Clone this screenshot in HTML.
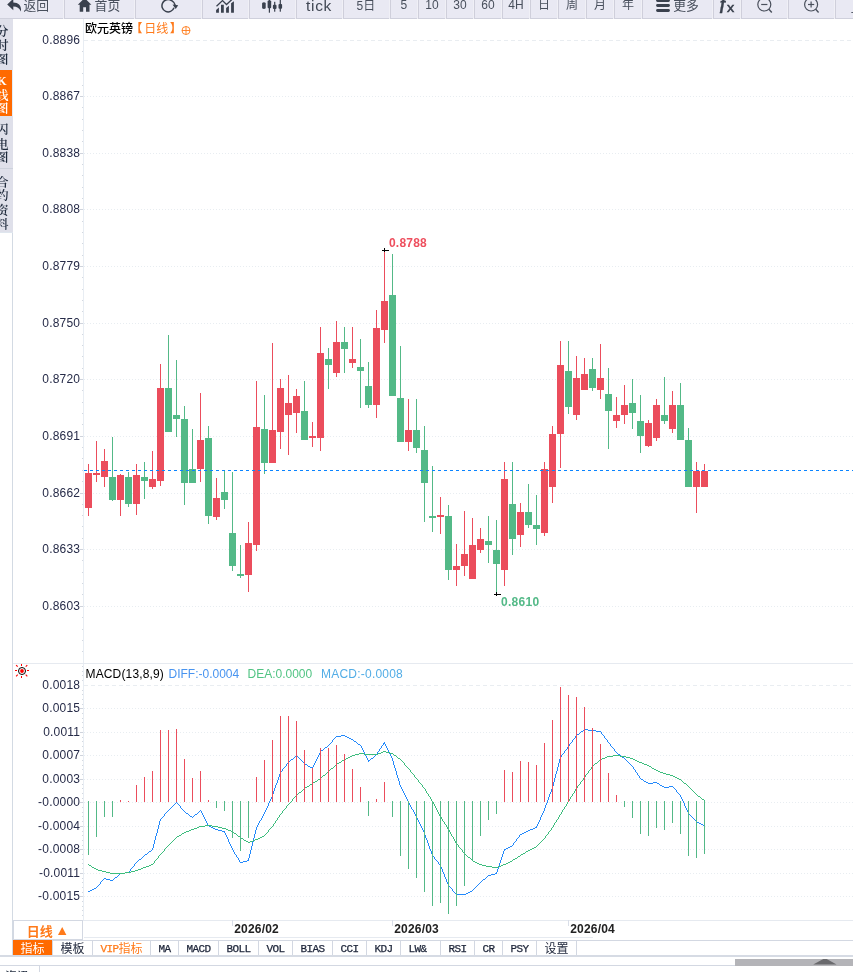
<!DOCTYPE html>
<html lang="zh-CN">
<head>
<meta charset="utf-8">
<title>欧元英镑 日线</title>
<style>
html,body{margin:0;padding:0;background:#fff;}
body{width:853px;height:972px;overflow:hidden;position:relative;font-family:"Liberation Sans","Noto Sans CJK SC",sans-serif;color:#333;}
#root{position:absolute;left:0;top:0;width:853px;height:972px;overflow:hidden;background:#fff;}
#root div,#root span,#root svg{position:absolute;}
.tbar{left:0;top:0;width:853px;height:19px;background:#f0f0f6;}
.tb{top:0;height:18px;background:#e9e9f3;border-left:1px solid #cfcfdb;border-bottom:1px solid #cfd0dc;overflow:hidden;}
.tt{top:-3.300px;font-size:12px;line-height:18px;color:#484f5c;white-space:nowrap;font-family:"Liberation Sans","Noto Sans CJK SC",sans-serif;}
.tc{left:0;right:0;top:-5px;text-align:center;font-size:13px;line-height:18px;color:#4b525e;white-space:nowrap;}
.side{left:0;top:19px;width:13px;background:#dfe0ea;overflow:hidden;font-family:"Liberation Serif","Noto Serif CJK SC",serif;font-size:12.500px;font-weight:600;color:#1e2a3c;}
.side span{left:-4.200px;width:13px;text-align:center;line-height:14px;}
.yl{left:20px;width:60.200px;text-align:right;font-size:12px;line-height:14px;color:#262b48;white-space:nowrap;letter-spacing:0.2px;}
.tab{top:941px;height:14px;border-right:1px solid #d3d8e2;font-family:"Liberation Mono","Noto Sans CJK SC",monospace;font-size:11px;letter-spacing:-0.6px;line-height:15px;text-align:center;color:#1c2438;white-space:nowrap;}
.tab .tcj{position:relative !important;top:2.200px;font-family:"Liberation Sans","Noto Sans CJK SC",sans-serif;font-size:12px;letter-spacing:0;line-height:14px;}
.tab.act{background:#ff6a00;color:#fff;}
.tab.na .tcj{top:1.300px;}
.tab.na{-webkit-text-stroke:0.25px currentColor;}
.tab.na .tcj{-webkit-text-stroke:0;}
.tab.vip{color:#ff7a1a;}
.cj{font-family:"Liberation Sans","Noto Sans CJK SC",sans-serif;font-size:12px;}
</style>
</head>
<body>
<div id="root">
<svg width="853" height="972" viewBox="0 0 853 972" style="left:0;top:0" shape-rendering="crispEdges">
<!-- frame lines -->
<rect x="12" y="233" width="1" height="723" fill="#d3dae3"/>
<rect x="83" y="19" width="1" height="902" fill="#e8edf3"/>
<rect x="13" y="663" width="840" height="1" fill="#e6eaf0"/>
<rect x="13" y="920" width="840" height="1" fill="#e6eaf0"/>
<rect x="84" y="937" width="509" height="1" fill="#e6eaf0"/>
<rect x="13" y="940" width="840" height="1" fill="#d3d8e2"/>
<rect x="0" y="955" width="853" height="2" fill="#d6dbe4"/>
<rect x="0" y="965" width="735" height="1" fill="#d3d8e2"/>
<rect x="39" y="966" width="1" height="6" fill="#d3d8e2"/>
<!-- period box -->
<rect x="13.5" y="920.5" width="69" height="18.500" fill="#fff" stroke="#d3d8e2"/>
<!-- x ticks -->
<rect x="232" y="920" width="1" height="6" fill="#d9dee8"/>
<rect x="392" y="920" width="1" height="6" fill="#d9dee8"/>
<rect x="568" y="920" width="1" height="6" fill="#d9dee8"/>
<line x1="84" x2="853" y1="40.5" y2="40.5" stroke="#e9edf1" stroke-dasharray="4 3"/>
<rect x="82" y="51" width="1" height="1" fill="#d3d8e0"/>
<rect x="82" y="62" width="1" height="1" fill="#d3d8e0"/>
<rect x="82" y="73" width="1" height="1" fill="#d3d8e0"/>
<rect x="82" y="85" width="1" height="1" fill="#d3d8e0"/>
<line x1="84" x2="853" y1="96.5" y2="96.5" stroke="#e8edf1" stroke-dasharray="1 2"/>
<rect x="80" y="96" width="3" height="1" fill="#cfd3dc"/>
<rect x="82" y="107" width="1" height="1" fill="#d3d8e0"/>
<rect x="82" y="119" width="1" height="1" fill="#d3d8e0"/>
<rect x="82" y="130" width="1" height="1" fill="#d3d8e0"/>
<rect x="82" y="141" width="1" height="1" fill="#d3d8e0"/>
<line x1="84" x2="853" y1="153.5" y2="153.5" stroke="#e8edf1" stroke-dasharray="1 2"/>
<rect x="80" y="153" width="3" height="1" fill="#cfd3dc"/>
<rect x="82" y="164" width="1" height="1" fill="#d3d8e0"/>
<rect x="82" y="175" width="1" height="1" fill="#d3d8e0"/>
<rect x="82" y="187" width="1" height="1" fill="#d3d8e0"/>
<rect x="82" y="198" width="1" height="1" fill="#d3d8e0"/>
<line x1="84" x2="853" y1="209.5" y2="209.5" stroke="#e8edf1" stroke-dasharray="1 2"/>
<rect x="80" y="209" width="3" height="1" fill="#cfd3dc"/>
<rect x="82" y="221" width="1" height="1" fill="#d3d8e0"/>
<rect x="82" y="232" width="1" height="1" fill="#d3d8e0"/>
<rect x="82" y="243" width="1" height="1" fill="#d3d8e0"/>
<rect x="82" y="255" width="1" height="1" fill="#d3d8e0"/>
<line x1="84" x2="853" y1="266.5" y2="266.5" stroke="#e8edf1" stroke-dasharray="1 2"/>
<rect x="80" y="266" width="3" height="1" fill="#cfd3dc"/>
<rect x="82" y="277" width="1" height="1" fill="#d3d8e0"/>
<rect x="82" y="289" width="1" height="1" fill="#d3d8e0"/>
<rect x="82" y="300" width="1" height="1" fill="#d3d8e0"/>
<rect x="82" y="311" width="1" height="1" fill="#d3d8e0"/>
<line x1="84" x2="853" y1="323.5" y2="323.5" stroke="#e8edf1" stroke-dasharray="1 2"/>
<rect x="80" y="323" width="3" height="1" fill="#cfd3dc"/>
<rect x="82" y="334" width="1" height="1" fill="#d3d8e0"/>
<rect x="82" y="345" width="1" height="1" fill="#d3d8e0"/>
<rect x="82" y="356" width="1" height="1" fill="#d3d8e0"/>
<rect x="82" y="368" width="1" height="1" fill="#d3d8e0"/>
<line x1="84" x2="853" y1="379.5" y2="379.5" stroke="#e8edf1" stroke-dasharray="1 2"/>
<rect x="80" y="379" width="3" height="1" fill="#cfd3dc"/>
<rect x="82" y="390" width="1" height="1" fill="#d3d8e0"/>
<rect x="82" y="402" width="1" height="1" fill="#d3d8e0"/>
<rect x="82" y="413" width="1" height="1" fill="#d3d8e0"/>
<rect x="82" y="424" width="1" height="1" fill="#d3d8e0"/>
<line x1="84" x2="853" y1="436.5" y2="436.5" stroke="#e8edf1" stroke-dasharray="1 2"/>
<rect x="80" y="436" width="3" height="1" fill="#cfd3dc"/>
<rect x="82" y="447" width="1" height="1" fill="#d3d8e0"/>
<rect x="82" y="458" width="1" height="1" fill="#d3d8e0"/>
<rect x="82" y="470" width="1" height="1" fill="#d3d8e0"/>
<rect x="82" y="481" width="1" height="1" fill="#d3d8e0"/>
<line x1="84" x2="853" y1="493.5" y2="493.5" stroke="#e8edf1" stroke-dasharray="1 2"/>
<rect x="80" y="493" width="3" height="1" fill="#cfd3dc"/>
<rect x="82" y="504" width="1" height="1" fill="#d3d8e0"/>
<rect x="82" y="515" width="1" height="1" fill="#d3d8e0"/>
<rect x="82" y="526" width="1" height="1" fill="#d3d8e0"/>
<rect x="82" y="538" width="1" height="1" fill="#d3d8e0"/>
<line x1="84" x2="853" y1="549.5" y2="549.5" stroke="#e8edf1" stroke-dasharray="1 2"/>
<rect x="80" y="549" width="3" height="1" fill="#cfd3dc"/>
<rect x="82" y="560" width="1" height="1" fill="#d3d8e0"/>
<rect x="82" y="572" width="1" height="1" fill="#d3d8e0"/>
<rect x="82" y="583" width="1" height="1" fill="#d3d8e0"/>
<rect x="82" y="594" width="1" height="1" fill="#d3d8e0"/>
<line x1="84" x2="853" y1="606.5" y2="606.5" stroke="#e8edf1" stroke-dasharray="1 2"/>
<rect x="80" y="606" width="3" height="1" fill="#cfd3dc"/>
<rect x="82" y="617" width="1" height="1" fill="#d3d8e0"/>
<rect x="82" y="629" width="1" height="1" fill="#d3d8e0"/>
<rect x="82" y="640" width="1" height="1" fill="#d3d8e0"/>
<rect x="82" y="651" width="1" height="1" fill="#d3d8e0"/>
<line x1="84" x2="853" y1="685.5" y2="685.5" stroke="#e9edf1" stroke-dasharray="4 3"/>
<line x1="84" x2="853" y1="708.5" y2="708.5" stroke="#e8edf1" stroke-dasharray="1 2"/>
<rect x="80" y="708" width="3" height="1" fill="#cfd3dc"/>
<line x1="84" x2="853" y1="732.5" y2="732.5" stroke="#e8edf1" stroke-dasharray="1 2"/>
<rect x="80" y="732" width="3" height="1" fill="#cfd3dc"/>
<line x1="84" x2="853" y1="755.5" y2="755.5" stroke="#e8edf1" stroke-dasharray="1 2"/>
<rect x="80" y="755" width="3" height="1" fill="#cfd3dc"/>
<line x1="84" x2="853" y1="779.5" y2="779.5" stroke="#e8edf1" stroke-dasharray="1 2"/>
<rect x="80" y="779" width="3" height="1" fill="#cfd3dc"/>
<line x1="84" x2="853" y1="802.5" y2="802.5" stroke="#e8edf1" stroke-dasharray="1 2"/>
<rect x="80" y="802" width="3" height="1" fill="#cfd3dc"/>
<line x1="84" x2="853" y1="826.5" y2="826.5" stroke="#e8edf1" stroke-dasharray="1 2"/>
<rect x="80" y="826" width="3" height="1" fill="#cfd3dc"/>
<line x1="84" x2="853" y1="849.5" y2="849.5" stroke="#e8edf1" stroke-dasharray="1 2"/>
<rect x="80" y="849" width="3" height="1" fill="#cfd3dc"/>
<line x1="84" x2="853" y1="873.5" y2="873.5" stroke="#e8edf1" stroke-dasharray="1 2"/>
<rect x="80" y="873" width="3" height="1" fill="#cfd3dc"/>
<line x1="84" x2="853" y1="896.5" y2="896.5" stroke="#e8edf1" stroke-dasharray="1 2"/>
<rect x="80" y="896" width="3" height="1" fill="#cfd3dc"/>
<rect x="82" y="666" width="1" height="1" fill="#d3d8e0"/>
<rect x="82" y="671" width="1" height="1" fill="#d3d8e0"/>
<rect x="82" y="675" width="1" height="1" fill="#d3d8e0"/>
<rect x="82" y="680" width="1" height="1" fill="#d3d8e0"/>
<rect x="82" y="690" width="1" height="1" fill="#d3d8e0"/>
<rect x="82" y="694" width="1" height="1" fill="#d3d8e0"/>
<rect x="82" y="699" width="1" height="1" fill="#d3d8e0"/>
<rect x="82" y="704" width="1" height="1" fill="#d3d8e0"/>
<rect x="82" y="713" width="1" height="1" fill="#d3d8e0"/>
<rect x="82" y="718" width="1" height="1" fill="#d3d8e0"/>
<rect x="82" y="722" width="1" height="1" fill="#d3d8e0"/>
<rect x="82" y="727" width="1" height="1" fill="#d3d8e0"/>
<rect x="82" y="737" width="1" height="1" fill="#d3d8e0"/>
<rect x="82" y="741" width="1" height="1" fill="#d3d8e0"/>
<rect x="82" y="746" width="1" height="1" fill="#d3d8e0"/>
<rect x="82" y="751" width="1" height="1" fill="#d3d8e0"/>
<rect x="82" y="760" width="1" height="1" fill="#d3d8e0"/>
<rect x="82" y="765" width="1" height="1" fill="#d3d8e0"/>
<rect x="82" y="769" width="1" height="1" fill="#d3d8e0"/>
<rect x="82" y="774" width="1" height="1" fill="#d3d8e0"/>
<rect x="82" y="784" width="1" height="1" fill="#d3d8e0"/>
<rect x="82" y="788" width="1" height="1" fill="#d3d8e0"/>
<rect x="82" y="793" width="1" height="1" fill="#d3d8e0"/>
<rect x="82" y="798" width="1" height="1" fill="#d3d8e0"/>
<rect x="82" y="807" width="1" height="1" fill="#d3d8e0"/>
<rect x="82" y="812" width="1" height="1" fill="#d3d8e0"/>
<rect x="82" y="816" width="1" height="1" fill="#d3d8e0"/>
<rect x="82" y="821" width="1" height="1" fill="#d3d8e0"/>
<rect x="82" y="831" width="1" height="1" fill="#d3d8e0"/>
<rect x="82" y="835" width="1" height="1" fill="#d3d8e0"/>
<rect x="82" y="840" width="1" height="1" fill="#d3d8e0"/>
<rect x="82" y="845" width="1" height="1" fill="#d3d8e0"/>
<rect x="82" y="854" width="1" height="1" fill="#d3d8e0"/>
<rect x="82" y="859" width="1" height="1" fill="#d3d8e0"/>
<rect x="82" y="863" width="1" height="1" fill="#d3d8e0"/>
<rect x="82" y="868" width="1" height="1" fill="#d3d8e0"/>
<rect x="82" y="878" width="1" height="1" fill="#d3d8e0"/>
<rect x="82" y="882" width="1" height="1" fill="#d3d8e0"/>
<rect x="82" y="887" width="1" height="1" fill="#d3d8e0"/>
<rect x="82" y="892" width="1" height="1" fill="#d3d8e0"/>
<rect x="82" y="901" width="1" height="1" fill="#d3d8e0"/>
<rect x="82" y="906" width="1" height="1" fill="#d3d8e0"/>
<rect x="82" y="910" width="1" height="1" fill="#d3d8e0"/>
<rect x="82" y="915" width="1" height="1" fill="#d3d8e0"/>
<!-- candles -->
<rect x="88" y="464" width="1" height="52" fill="#eb4d5c"/>
<rect x="85" y="473" width="7" height="35" fill="#eb4d5c"/>
<rect x="96" y="441" width="1" height="41" fill="#eb4d5c"/>
<rect x="93" y="473" width="7" height="2" fill="#eb4d5c"/>
<rect x="104" y="449" width="1" height="38" fill="#eb4d5c"/>
<rect x="101" y="461" width="7" height="16" fill="#eb4d5c"/>
<rect x="112" y="437" width="1" height="64" fill="#53b987"/>
<rect x="109" y="477" width="7" height="23" fill="#53b987"/>
<rect x="120" y="474" width="1" height="42" fill="#eb4d5c"/>
<rect x="117" y="475" width="7" height="25" fill="#eb4d5c"/>
<rect x="128" y="472" width="1" height="35" fill="#53b987"/>
<rect x="125" y="477" width="7" height="27" fill="#53b987"/>
<rect x="136" y="464" width="1" height="51" fill="#eb4d5c"/>
<rect x="133" y="475" width="7" height="29" fill="#eb4d5c"/>
<rect x="144" y="462" width="1" height="37" fill="#53b987"/>
<rect x="141" y="477" width="7" height="4" fill="#53b987"/>
<rect x="152" y="451" width="1" height="38" fill="#eb4d5c"/>
<rect x="149" y="479" width="7" height="8" fill="#eb4d5c"/>
<rect x="160" y="364" width="1" height="122" fill="#eb4d5c"/>
<rect x="157" y="388" width="7" height="93" fill="#eb4d5c"/>
<rect x="168" y="335" width="1" height="97" fill="#53b987"/>
<rect x="165" y="388" width="7" height="44" fill="#53b987"/>
<rect x="176" y="360" width="1" height="77" fill="#53b987"/>
<rect x="173" y="415" width="7" height="4" fill="#53b987"/>
<rect x="184" y="406" width="1" height="99" fill="#53b987"/>
<rect x="181" y="419" width="7" height="64" fill="#53b987"/>
<rect x="192" y="429" width="1" height="54" fill="#53b987"/>
<rect x="189" y="469" width="7" height="14" fill="#53b987"/>
<rect x="200" y="393" width="1" height="89" fill="#eb4d5c"/>
<rect x="197" y="440" width="7" height="29" fill="#eb4d5c"/>
<rect x="208" y="426" width="1" height="98" fill="#53b987"/>
<rect x="205" y="438" width="7" height="78" fill="#53b987"/>
<rect x="216" y="478" width="1" height="42" fill="#eb4d5c"/>
<rect x="213" y="498" width="7" height="19" fill="#eb4d5c"/>
<rect x="224" y="470" width="1" height="39" fill="#53b987"/>
<rect x="221" y="492" width="7" height="8" fill="#53b987"/>
<rect x="232" y="472" width="1" height="99" fill="#53b987"/>
<rect x="229" y="533" width="7" height="33" fill="#53b987"/>
<rect x="240" y="545" width="1" height="33" fill="#53b987"/>
<rect x="237" y="574" width="7" height="2" fill="#53b987"/>
<rect x="248" y="522" width="1" height="70" fill="#eb4d5c"/>
<rect x="245" y="543" width="7" height="32" fill="#eb4d5c"/>
<rect x="256" y="381" width="1" height="170" fill="#eb4d5c"/>
<rect x="253" y="427" width="7" height="118" fill="#eb4d5c"/>
<rect x="264" y="395" width="1" height="79" fill="#53b987"/>
<rect x="261" y="429" width="7" height="34" fill="#53b987"/>
<rect x="272" y="343" width="1" height="120" fill="#eb4d5c"/>
<rect x="269" y="430" width="7" height="33" fill="#eb4d5c"/>
<rect x="280" y="379" width="1" height="70" fill="#eb4d5c"/>
<rect x="277" y="388" width="7" height="44" fill="#eb4d5c"/>
<rect x="288" y="375" width="1" height="80" fill="#eb4d5c"/>
<rect x="285" y="403" width="7" height="12" fill="#eb4d5c"/>
<rect x="296" y="389" width="1" height="44" fill="#eb4d5c"/>
<rect x="293" y="396" width="7" height="17" fill="#eb4d5c"/>
<rect x="304" y="381" width="1" height="59" fill="#53b987"/>
<rect x="301" y="411" width="7" height="29" fill="#53b987"/>
<rect x="312" y="422" width="1" height="25" fill="#eb4d5c"/>
<rect x="309" y="436" width="7" height="2" fill="#eb4d5c"/>
<rect x="320" y="327" width="1" height="124" fill="#eb4d5c"/>
<rect x="317" y="353" width="7" height="85" fill="#eb4d5c"/>
<rect x="328" y="348" width="1" height="41" fill="#53b987"/>
<rect x="325" y="359" width="7" height="6" fill="#53b987"/>
<rect x="336" y="321" width="1" height="56" fill="#eb4d5c"/>
<rect x="333" y="342" width="7" height="31" fill="#eb4d5c"/>
<rect x="344" y="327" width="1" height="46" fill="#53b987"/>
<rect x="341" y="342" width="7" height="7" fill="#53b987"/>
<rect x="352" y="327" width="1" height="41" fill="#eb4d5c"/>
<rect x="349" y="359" width="7" height="4" fill="#eb4d5c"/>
<rect x="360" y="339" width="1" height="69" fill="#53b987"/>
<rect x="357" y="367" width="7" height="4" fill="#53b987"/>
<rect x="368" y="362" width="1" height="46" fill="#53b987"/>
<rect x="365" y="386" width="7" height="19" fill="#53b987"/>
<rect x="376" y="310" width="1" height="108" fill="#eb4d5c"/>
<rect x="373" y="328" width="7" height="77" fill="#eb4d5c"/>
<rect x="384" y="250" width="1" height="93" fill="#eb4d5c"/>
<rect x="381" y="301" width="7" height="29" fill="#eb4d5c"/>
<rect x="392" y="254" width="1" height="142" fill="#53b987"/>
<rect x="389" y="295" width="7" height="101" fill="#53b987"/>
<rect x="400" y="346" width="1" height="96" fill="#53b987"/>
<rect x="397" y="398" width="7" height="44" fill="#53b987"/>
<rect x="408" y="399" width="1" height="52" fill="#eb4d5c"/>
<rect x="405" y="430" width="7" height="12" fill="#eb4d5c"/>
<rect x="416" y="399" width="1" height="54" fill="#53b987"/>
<rect x="413" y="430" width="7" height="18" fill="#53b987"/>
<rect x="424" y="426" width="1" height="96" fill="#53b987"/>
<rect x="421" y="450" width="7" height="33" fill="#53b987"/>
<rect x="432" y="466" width="1" height="66" fill="#53b987"/>
<rect x="429" y="516" width="7" height="2" fill="#53b987"/>
<rect x="440" y="497" width="1" height="37" fill="#eb4d5c"/>
<rect x="437" y="515" width="7" height="2" fill="#eb4d5c"/>
<rect x="448" y="505" width="1" height="75" fill="#53b987"/>
<rect x="445" y="516" width="7" height="54" fill="#53b987"/>
<rect x="456" y="544" width="1" height="42" fill="#eb4d5c"/>
<rect x="453" y="566" width="7" height="4" fill="#eb4d5c"/>
<rect x="464" y="511" width="1" height="65" fill="#eb4d5c"/>
<rect x="461" y="554" width="7" height="12" fill="#eb4d5c"/>
<rect x="472" y="518" width="1" height="61" fill="#eb4d5c"/>
<rect x="469" y="545" width="7" height="34" fill="#eb4d5c"/>
<rect x="480" y="528" width="1" height="25" fill="#eb4d5c"/>
<rect x="477" y="539" width="7" height="11" fill="#eb4d5c"/>
<rect x="488" y="516" width="1" height="47" fill="#53b987"/>
<rect x="485" y="541" width="7" height="4" fill="#53b987"/>
<rect x="496" y="520" width="1" height="74" fill="#53b987"/>
<rect x="493" y="550" width="7" height="14" fill="#53b987"/>
<rect x="504" y="462" width="1" height="124" fill="#eb4d5c"/>
<rect x="501" y="479" width="7" height="91" fill="#eb4d5c"/>
<rect x="512" y="462" width="1" height="93" fill="#53b987"/>
<rect x="509" y="504" width="7" height="35" fill="#53b987"/>
<rect x="520" y="503" width="1" height="44" fill="#eb4d5c"/>
<rect x="517" y="512" width="7" height="23" fill="#eb4d5c"/>
<rect x="528" y="484" width="1" height="44" fill="#53b987"/>
<rect x="525" y="512" width="7" height="13" fill="#53b987"/>
<rect x="536" y="495" width="1" height="50" fill="#53b987"/>
<rect x="533" y="525" width="7" height="4" fill="#53b987"/>
<rect x="544" y="462" width="1" height="74" fill="#eb4d5c"/>
<rect x="541" y="469" width="7" height="64" fill="#eb4d5c"/>
<rect x="552" y="426" width="1" height="77" fill="#eb4d5c"/>
<rect x="549" y="434" width="7" height="53" fill="#eb4d5c"/>
<rect x="560" y="341" width="1" height="127" fill="#eb4d5c"/>
<rect x="557" y="365" width="7" height="69" fill="#eb4d5c"/>
<rect x="568" y="341" width="1" height="73" fill="#53b987"/>
<rect x="565" y="371" width="7" height="36" fill="#53b987"/>
<rect x="576" y="356" width="1" height="64" fill="#eb4d5c"/>
<rect x="573" y="378" width="7" height="37" fill="#eb4d5c"/>
<rect x="584" y="358" width="1" height="32" fill="#eb4d5c"/>
<rect x="581" y="374" width="7" height="16" fill="#eb4d5c"/>
<rect x="592" y="358" width="1" height="33" fill="#53b987"/>
<rect x="589" y="369" width="7" height="19" fill="#53b987"/>
<rect x="600" y="344" width="1" height="55" fill="#eb4d5c"/>
<rect x="597" y="378" width="7" height="12" fill="#eb4d5c"/>
<rect x="608" y="368" width="1" height="81" fill="#53b987"/>
<rect x="605" y="394" width="7" height="17" fill="#53b987"/>
<rect x="616" y="397" width="1" height="31" fill="#eb4d5c"/>
<rect x="613" y="415" width="7" height="6" fill="#eb4d5c"/>
<rect x="624" y="385" width="1" height="39" fill="#eb4d5c"/>
<rect x="621" y="405" width="7" height="10" fill="#eb4d5c"/>
<rect x="632" y="379" width="1" height="50" fill="#53b987"/>
<rect x="629" y="403" width="7" height="10" fill="#53b987"/>
<rect x="640" y="395" width="1" height="58" fill="#53b987"/>
<rect x="637" y="421" width="7" height="15" fill="#53b987"/>
<rect x="648" y="420" width="1" height="27" fill="#eb4d5c"/>
<rect x="645" y="423" width="7" height="23" fill="#eb4d5c"/>
<rect x="656" y="399" width="1" height="42" fill="#eb4d5c"/>
<rect x="653" y="405" width="7" height="33" fill="#eb4d5c"/>
<rect x="664" y="377" width="1" height="47" fill="#53b987"/>
<rect x="661" y="415" width="7" height="6" fill="#53b987"/>
<rect x="672" y="391" width="1" height="42" fill="#eb4d5c"/>
<rect x="669" y="405" width="7" height="24" fill="#eb4d5c"/>
<rect x="680" y="383" width="1" height="57" fill="#53b987"/>
<rect x="677" y="405" width="7" height="35" fill="#53b987"/>
<rect x="688" y="428" width="1" height="59" fill="#53b987"/>
<rect x="685" y="440" width="7" height="47" fill="#53b987"/>
<rect x="696" y="462" width="1" height="51" fill="#eb4d5c"/>
<rect x="693" y="471" width="7" height="16" fill="#eb4d5c"/>
<rect x="704" y="464" width="1" height="23" fill="#eb4d5c"/>
<rect x="701" y="471" width="7" height="16" fill="#eb4d5c"/>
<!-- last price line -->
<line x1="84" x2="853" y1="470.5" y2="470.5" stroke="#0a84ff" stroke-dasharray="3 3"/>
<!-- hi/lo markers -->
<rect x="382" y="250" width="7" height="1" fill="#000"/><rect x="384" y="248" width="1" height="4" fill="#000"/>
<rect x="494" y="594" width="7" height="1" fill="#000"/><rect x="496" y="592" width="1" height="4" fill="#000"/>
<!-- macd -->
<path d="M88 891h2v1h-2zM90 890h2v1h-2zM92 889h2v1h-2zM94 888h2v1h-2zM96 887h1v1h-1zM97 886h1v1h-1zM98 885h1v1h-1zM99 884h1v1h-1zM100 882h1v2h-1zM101 881h1v1h-1zM102 880h1v1h-1zM103 879h1v1h-1zM104 878h2v1h-2zM106 879h4v1h-4zM110 880h3v1h-3zM113 879h1v1h-1zM114 878h1v1h-1zM115 877h2v1h-2zM117 876h1v1h-1zM118 875h1v1h-1zM119 874h1v1h-1zM120 873h5v1h-5zM125 872h4v1h-4zM129 871h1v1h-1zM130 869h1v2h-1zM131 868h1v1h-1zM132 867h1v1h-1zM133 866h1v1h-1zM134 864h1v2h-1zM135 863h1v1h-1zM136 862h1v1h-1zM137 861h1v1h-1zM138 860h1v1h-1zM139 859h2v1h-2zM141 858h1v1h-1zM142 857h1v1h-1zM143 856h1v1h-1zM144 855h1v1h-1zM145 854h2v1h-2zM147 853h1v1h-1zM148 852h1v1h-1zM149 851h2v1h-2zM151 850h1v1h-1zM152 848h1v2h-1zM153 844h1v4h-1zM154 840h1v4h-1zM155 836h1v4h-1zM156 833h1v3h-1zM157 829h1v4h-1zM158 825h1v4h-1zM159 821h1v4h-1zM160 819h1v2h-1zM161 818h1v1h-1zM162 817h1v1h-1zM163 816h1v1h-1zM164 814h1v2h-1zM165 813h1v1h-1zM166 812h1v1h-1zM167 811h1v1h-1zM168 810h1v1h-1zM169 809h1v1h-1zM170 808h1v1h-1zM171 807h1v1h-1zM172 806h1v1h-1zM173 805h1v1h-1zM174 804h1v1h-1zM175 803h1v1h-1zM176 802h1v1h-1zM177 803h1v1h-1zM178 804h1v1h-1zM179 805h1v1h-1zM180 806h1v2h-1zM181 808h1v1h-1zM182 809h1v1h-1zM183 810h1v1h-1zM184 811h1v1h-1zM185 812h1v1h-1zM186 813h2v1h-2zM188 814h1v1h-1zM189 815h1v1h-1zM190 816h2v1h-2zM192 817h1v1h-1zM193 816h1v1h-1zM194 815h1v1h-1zM195 814h2v1h-2zM197 813h1v1h-1zM198 812h1v1h-1zM199 811h1v1h-1zM200 810h1v1h-1zM201 811h1v2h-1zM202 813h1v2h-1zM203 815h1v2h-1zM204 817h1v2h-1zM205 819h1v2h-1zM206 821h1v2h-1zM207 823h1v2h-1zM208 825h1v1h-1zM209 826h2v1h-2zM211 827h2v1h-2zM213 828h2v1h-2zM215 829h3v1h-3zM218 830h4v1h-4zM222 831h2v1h-2zM224 831h1v2h-1zM225 833h1v2h-1zM226 835h1v2h-1zM227 837h1v2h-1zM228 839h1v3h-1zM229 842h1v2h-1zM230 844h1v2h-1zM231 846h1v2h-1zM232 848h1v2h-1zM233 850h1v2h-1zM234 852h1v2h-1zM235 854h1v1h-1zM236 855h1v2h-1zM237 857h1v1h-1zM238 858h1v2h-1zM239 860h1v2h-1zM240 862h3v1h-3zM243 861h4v1h-4zM247 860h1v1h-1zM248 858h1v3h-1zM249 854h1v4h-1zM250 850h1v4h-1zM251 846h1v4h-1zM252 842h1v4h-1zM253 838h1v4h-1zM254 834h1v4h-1zM255 830h1v4h-1zM256 827h1v3h-1zM257 825h1v2h-1zM258 823h1v2h-1zM259 821h1v2h-1zM260 820h1v1h-1zM261 818h1v2h-1zM262 816h1v2h-1zM263 814h1v2h-1zM264 812h1v2h-1zM265 810h1v2h-1zM266 808h1v2h-1zM267 806h1v2h-1zM268 803h1v3h-1zM269 801h1v2h-1zM270 799h1v2h-1zM271 797h1v2h-1zM272 794h1v3h-1zM273 791h1v3h-1zM274 788h1v3h-1zM275 785h1v3h-1zM276 783h1v2h-1zM277 780h1v3h-1zM278 777h1v3h-1zM279 774h1v3h-1zM280 772h1v2h-1zM281 771h1v1h-1zM282 769h1v2h-1zM283 768h1v1h-1zM284 767h1v1h-1zM285 766h1v1h-1zM286 764h1v2h-1zM287 763h1v1h-1zM288 762h1v1h-1zM289 761h1v1h-1zM290 760h1v1h-1zM291 759h2v1h-2zM293 758h1v1h-1zM294 757h1v1h-1zM295 756h1v1h-1zM296 755h1v1h-1zM297 756h1v1h-1zM298 757h1v1h-1zM299 758h1v1h-1zM300 759h1v1h-1zM301 760h1v1h-1zM302 761h1v1h-1zM303 762h1v1h-1zM304 763h1v1h-1zM305 764h2v1h-2zM307 765h1v1h-1zM308 766h2v1h-2zM310 767h2v1h-2zM312 767h1v2h-1zM313 765h1v2h-1zM314 763h1v2h-1zM315 761h1v2h-1zM316 759h1v2h-1zM317 757h1v2h-1zM318 755h1v2h-1zM319 753h1v2h-1zM320 751h1v2h-1zM321 750h2v1h-2zM323 749h1v1h-1zM324 748h1v1h-1zM325 747h2v1h-2zM327 746h1v1h-1zM328 745h1v1h-1zM329 744h1v1h-1zM330 743h1v1h-1zM331 742h1v1h-1zM332 740h1v2h-1zM333 739h1v1h-1zM334 738h1v1h-1zM335 737h1v1h-1zM336 736h5v1h-5zM341 735h4v1h-4zM345 736h2v1h-2zM347 737h2v1h-2zM349 738h2v1h-2zM351 739h2v1h-2zM353 740h1v1h-1zM354 741h2v1h-2zM356 742h1v1h-1zM357 743h1v1h-1zM358 744h2v1h-2zM360 745h1v1h-1zM361 746h1v2h-1zM362 748h1v2h-1zM363 750h1v2h-1zM364 752h1v2h-1zM365 754h1v2h-1zM366 756h1v2h-1zM367 758h1v2h-1zM368 760h1v2h-1zM369 760h1v1h-1zM370 759h1v1h-1zM371 758h2v1h-2zM373 757h1v1h-1zM374 756h1v1h-1zM375 755h1v1h-1zM376 754h1v1h-1zM377 752h1v2h-1zM378 751h1v1h-1zM379 749h1v2h-1zM380 748h1v1h-1zM381 746h1v2h-1zM382 745h1v1h-1zM383 743h1v2h-1zM384 742h1v2h-1zM385 744h1v2h-1zM386 746h1v2h-1zM387 748h1v2h-1zM388 750h1v2h-1zM389 752h1v2h-1zM390 754h1v2h-1zM391 756h1v2h-1zM392 758h1v3h-1zM393 761h1v4h-1zM394 765h1v3h-1zM395 768h1v3h-1zM396 771h1v4h-1zM397 775h1v3h-1zM398 778h1v3h-1zM399 781h1v4h-1zM400 785h1v2h-1zM401 787h1v2h-1zM402 789h1v2h-1zM403 791h1v2h-1zM404 793h1v2h-1zM405 795h1v2h-1zM406 797h1v2h-1zM407 799h1v2h-1zM408 801h1v2h-1zM409 803h1v2h-1zM410 805h1v2h-1zM411 807h1v2h-1zM412 809h1v1h-1zM413 810h1v2h-1zM414 812h1v2h-1zM415 814h1v2h-1zM416 816h1v2h-1zM417 818h1v2h-1zM418 820h1v2h-1zM419 822h1v2h-1zM420 824h1v2h-1zM421 826h1v2h-1zM422 828h1v2h-1zM423 830h1v2h-1zM424 832h1v3h-1zM425 835h1v3h-1zM426 838h1v2h-1zM427 840h1v3h-1zM428 843h1v3h-1zM429 846h1v3h-1zM430 849h1v2h-1zM431 851h1v3h-1zM432 854h1v2h-1zM433 856h1v1h-1zM434 857h1v2h-1zM435 859h1v1h-1zM436 860h1v1h-1zM437 861h1v1h-1zM438 862h1v2h-1zM439 864h1v1h-1zM440 865h1v2h-1zM441 867h1v2h-1zM442 869h1v3h-1zM443 872h1v2h-1zM444 874h1v3h-1zM445 877h1v2h-1zM446 879h1v3h-1zM447 882h1v2h-1zM448 884h1v2h-1zM449 886h1v1h-1zM450 887h1v1h-1zM451 888h1v1h-1zM452 889h1v2h-1zM453 891h1v1h-1zM454 892h1v1h-1zM455 893h1v1h-1zM456 894h10v1h-10zM466 893h2v1h-2zM468 892h2v1h-2zM470 891h2v1h-2zM472 890h1v1h-1zM473 889h1v1h-1zM474 888h1v1h-1zM475 887h1v1h-1zM476 886h1v1h-1zM477 885h1v1h-1zM478 884h1v1h-1zM479 883h1v1h-1zM480 882h1v1h-1zM481 881h1v1h-1zM482 880h1v1h-1zM483 879h2v1h-2zM485 878h1v1h-1zM486 877h1v1h-1zM487 876h1v1h-1zM488 875h3v1h-3zM491 874h4v1h-4zM495 873h1v1h-1zM496 872h1v2h-1zM497 869h1v3h-1zM498 866h1v3h-1zM499 863h1v3h-1zM500 860h1v3h-1zM501 857h1v3h-1zM502 854h1v3h-1zM503 851h1v3h-1zM504 849h1v2h-1zM505 849h1v1h-1zM506 848h2v1h-2zM508 847h2v1h-2zM510 846h2v1h-2zM512 845h1v1h-1zM513 843h1v2h-1zM514 842h1v1h-1zM515 841h1v1h-1zM516 839h1v2h-1zM517 838h1v1h-1zM518 837h1v1h-1zM519 835h1v2h-1zM520 834h2v1h-2zM522 833h2v1h-2zM524 832h2v1h-2zM526 831h2v1h-2zM528 830h2v1h-2zM530 829h3v1h-3zM533 828h2v1h-2zM535 827h1v1h-1zM536 826h1v2h-1zM537 824h1v2h-1zM538 822h1v2h-1zM539 820h1v2h-1zM540 817h1v3h-1zM541 815h1v2h-1zM542 813h1v2h-1zM543 811h1v2h-1zM544 808h1v3h-1zM545 805h1v3h-1zM546 803h1v2h-1zM547 800h1v3h-1zM548 797h1v3h-1zM549 794h1v3h-1zM550 792h1v2h-1zM551 789h1v3h-1zM552 786h1v3h-1zM553 782h1v4h-1zM554 778h1v4h-1zM555 774h1v4h-1zM556 771h1v3h-1zM557 767h1v4h-1zM558 763h1v4h-1zM559 759h1v4h-1zM560 757h1v2h-1zM561 755h1v2h-1zM562 754h1v1h-1zM563 753h1v1h-1zM564 751h1v2h-1zM565 750h1v1h-1zM566 749h1v1h-1zM567 747h1v2h-1zM568 746h1v1h-1zM569 744h1v2h-1zM570 743h1v1h-1zM571 742h1v1h-1zM572 740h1v2h-1zM573 739h1v1h-1zM574 738h1v1h-1zM575 736h1v2h-1zM576 735h1v1h-1zM577 734h2v1h-2zM579 733h1v1h-1zM580 732h1v1h-1zM581 731h2v1h-2zM583 730h1v1h-1zM584 729h4v1h-4zM588 730h8v1h-8zM596 731h5v1h-5zM601 732h1v2h-1zM602 734h1v1h-1zM603 735h1v1h-1zM604 736h1v2h-1zM605 738h1v1h-1zM606 739h1v1h-1zM607 740h1v2h-1zM608 742h1v1h-1zM609 743h1v1h-1zM610 744h1v2h-1zM611 746h1v1h-1zM612 747h1v1h-1zM613 748h1v1h-1zM614 749h1v2h-1zM615 751h1v1h-1zM616 752h1v1h-1zM617 753h1v1h-1zM618 754h2v1h-2zM620 755h1v1h-1zM621 756h1v1h-1zM622 757h2v1h-2zM624 758h1v1h-1zM625 759h1v1h-1zM626 760h1v1h-1zM627 761h1v1h-1zM628 762h1v1h-1zM629 763h1v1h-1zM630 764h1v1h-1zM631 765h1v1h-1zM632 766h1v1h-1zM633 767h1v2h-1zM634 769h1v1h-1zM635 770h1v2h-1zM636 772h1v1h-1zM637 773h1v2h-1zM638 775h1v1h-1zM639 776h1v2h-1zM640 778h1v1h-1zM641 779h2v1h-2zM643 780h1v1h-1zM644 781h2v1h-2zM646 782h2v1h-2zM648 783h5v1h-5zM653 782h4v1h-4zM657 783h2v1h-2zM659 784h1v1h-1zM660 785h2v1h-2zM662 786h2v1h-2zM664 787h5v1h-5zM669 786h4v1h-4zM673 787h1v1h-1zM674 788h1v1h-1zM675 789h1v1h-1zM676 790h1v2h-1zM677 792h1v1h-1zM678 793h1v1h-1zM679 794h1v1h-1zM680 795h1v2h-1zM681 797h1v2h-1zM682 799h1v2h-1zM683 801h1v2h-1zM684 803h1v3h-1zM685 806h1v2h-1zM686 808h1v2h-1zM687 810h1v2h-1zM688 812h1v2h-1zM689 814h1v1h-1zM690 815h1v1h-1zM691 816h1v1h-1zM692 817h1v1h-1zM693 818h1v1h-1zM694 819h1v1h-1zM695 820h1v1h-1zM696 821h1v1h-1zM697 822h2v1h-2zM699 823h2v1h-2zM701 824h2v1h-2zM703 825h2v1h-2z" fill="#2389fb"/>
<path d="M88 864h1v1h-1zM89 865h2v1h-2zM91 866h1v1h-1zM92 867h2v1h-2zM94 868h2v1h-2zM96 869h2v1h-2zM98 870h4v1h-4zM102 871h4v1h-4zM106 872h4v1h-4zM110 873h15v1h-15zM125 872h6v1h-6zM131 871h4v1h-4zM135 870h3v1h-3zM138 869h3v1h-3zM141 868h2v1h-2zM143 867h3v1h-3zM146 866h3v1h-3zM149 865h2v1h-2zM151 864h2v1h-2zM153 863h1v1h-1zM154 861h1v2h-1zM155 860h1v1h-1zM156 859h1v1h-1zM157 858h1v1h-1zM158 856h1v2h-1zM159 855h1v1h-1zM160 854h1v1h-1zM161 853h1v1h-1zM162 852h1v1h-1zM163 851h1v1h-1zM164 849h1v2h-1zM165 848h1v1h-1zM166 847h1v1h-1zM167 846h1v1h-1zM168 845h1v1h-1zM169 844h1v1h-1zM170 843h1v1h-1zM171 842h1v1h-1zM172 841h1v1h-1zM173 840h1v1h-1zM174 839h1v1h-1zM175 838h1v1h-1zM176 837h1v1h-1zM177 836h2v1h-2zM179 835h2v1h-2zM181 834h1v1h-1zM182 833h2v1h-2zM184 832h2v1h-2zM186 831h3v1h-3zM189 830h2v1h-2zM191 829h3v1h-3zM194 828h3v1h-3zM197 827h2v1h-2zM199 826h6v1h-6zM205 825h7v1h-7zM212 826h6v1h-6zM218 827h4v1h-4zM222 828h4v1h-4zM226 829h2v1h-2zM228 830h3v1h-3zM231 831h2v1h-2zM233 832h1v1h-1zM234 833h2v1h-2zM236 834h1v1h-1zM237 835h1v1h-1zM238 836h2v1h-2zM240 837h1v1h-1zM241 838h2v1h-2zM243 839h1v1h-1zM244 840h2v1h-2zM246 841h2v1h-2zM248 842h2v1h-2zM250 841h3v1h-3zM253 840h2v1h-2zM255 839h3v1h-3zM258 838h2v1h-2zM260 837h2v1h-2zM262 836h2v1h-2zM264 835h1v1h-1zM265 834h1v1h-1zM266 833h1v1h-1zM267 832h1v1h-1zM268 830h1v2h-1zM269 829h1v1h-1zM270 828h1v1h-1zM271 827h1v1h-1zM272 826h1v1h-1zM273 824h1v2h-1zM274 823h1v1h-1zM275 821h1v2h-1zM276 820h1v1h-1zM277 818h1v2h-1zM278 817h1v1h-1zM279 815h1v2h-1zM280 814h1v1h-1zM281 813h1v1h-1zM282 811h1v2h-1zM283 810h1v1h-1zM284 809h1v1h-1zM285 808h1v1h-1zM286 806h1v2h-1zM287 805h1v1h-1zM288 804h1v1h-1zM289 803h1v1h-1zM290 802h1v1h-1zM291 801h1v1h-1zM292 799h1v2h-1zM293 798h1v1h-1zM294 797h1v1h-1zM295 796h1v1h-1zM296 795h1v1h-1zM297 794h1v1h-1zM298 793h1v1h-1zM299 792h2v1h-2zM301 791h1v1h-1zM302 790h1v1h-1zM303 789h1v1h-1zM304 788h1v1h-1zM305 787h2v1h-2zM307 786h2v1h-2zM309 785h1v1h-1zM310 784h2v1h-2zM312 783h1v1h-1zM313 782h2v1h-2zM315 781h2v1h-2zM317 780h1v1h-1zM318 779h2v1h-2zM320 778h1v1h-1zM321 777h1v1h-1zM322 776h1v1h-1zM323 775h2v1h-2zM325 774h1v1h-1zM326 773h1v1h-1zM327 772h1v1h-1zM328 771h1v1h-1zM329 770h1v1h-1zM330 769h1v1h-1zM331 768h2v1h-2zM333 767h1v1h-1zM334 766h1v1h-1zM335 765h1v1h-1zM336 764h1v1h-1zM337 763h2v1h-2zM339 762h2v1h-2zM341 761h1v1h-1zM342 760h2v1h-2zM344 759h2v1h-2zM346 758h2v1h-2zM348 757h2v1h-2zM350 756h2v1h-2zM352 755h3v1h-3zM355 754h4v1h-4zM359 753h5v1h-5zM364 754h14v1h-14zM378 753h3v1h-3zM381 752h2v1h-2zM383 751h3v1h-3zM386 752h4v1h-4zM390 753h3v1h-3zM393 754h1v1h-1zM394 755h2v1h-2zM396 756h1v1h-1zM397 757h1v1h-1zM398 758h2v1h-2zM400 759h1v1h-1zM401 760h1v1h-1zM402 761h1v1h-1zM403 762h1v1h-1zM404 763h1v2h-1zM405 765h1v1h-1zM406 766h1v1h-1zM407 767h1v1h-1zM408 768h1v1h-1zM409 769h1v1h-1zM410 770h1v2h-1zM411 772h1v1h-1zM412 773h1v1h-1zM413 774h1v1h-1zM414 775h1v2h-1zM415 777h1v1h-1zM416 778h1v1h-1zM417 779h1v1h-1zM418 780h1v2h-1zM419 782h1v1h-1zM420 783h1v1h-1zM421 784h1v1h-1zM422 785h1v2h-1zM423 787h1v1h-1zM424 788h1v1h-1zM425 789h1v2h-1zM426 791h1v2h-1zM427 793h1v1h-1zM428 794h1v2h-1zM429 796h1v1h-1zM430 797h1v2h-1zM431 799h1v2h-1zM432 801h1v1h-1zM433 802h1v2h-1zM434 804h1v2h-1zM435 806h1v2h-1zM436 808h1v2h-1zM437 810h1v2h-1zM438 812h1v2h-1zM439 814h1v2h-1zM440 816h1v1h-1zM441 817h1v2h-1zM442 819h1v2h-1zM443 821h1v1h-1zM444 822h1v2h-1zM445 824h1v1h-1zM446 825h1v2h-1zM447 827h1v2h-1zM448 829h1v1h-1zM449 830h1v2h-1zM450 832h1v2h-1zM451 834h1v2h-1zM452 836h1v1h-1zM453 837h1v2h-1zM454 839h1v2h-1zM455 841h1v2h-1zM456 843h1v1h-1zM457 844h1v1h-1zM458 845h1v2h-1zM459 847h1v1h-1zM460 848h1v1h-1zM461 849h1v1h-1zM462 850h1v2h-1zM463 852h1v1h-1zM464 853h1v1h-1zM465 854h1v1h-1zM466 855h1v1h-1zM467 856h1v1h-1zM468 857h2v1h-2zM470 858h1v1h-1zM471 859h1v1h-1zM472 860h1v1h-1zM473 861h2v1h-2zM475 862h2v1h-2zM477 863h2v1h-2zM479 864h3v1h-3zM482 865h4v1h-4zM486 866h6v1h-6zM492 867h6v1h-6zM498 866h3v1h-3zM501 865h2v1h-2zM503 864h3v1h-3zM506 863h2v1h-2zM508 862h2v1h-2zM510 861h2v1h-2zM512 860h1v1h-1zM513 859h2v1h-2zM515 858h2v1h-2zM517 857h1v1h-1zM518 856h2v1h-2zM520 855h1v1h-1zM521 854h2v1h-2zM523 853h2v1h-2zM525 852h1v1h-1zM526 851h2v1h-2zM528 850h2v1h-2zM530 849h2v1h-2zM532 848h2v1h-2zM534 847h2v1h-2zM536 846h1v1h-1zM537 845h1v1h-1zM538 844h1v1h-1zM539 843h1v1h-1zM540 842h1v1h-1zM541 841h1v1h-1zM542 840h1v1h-1zM543 839h1v1h-1zM544 838h1v1h-1zM545 836h1v2h-1zM546 835h1v1h-1zM547 834h1v1h-1zM548 832h1v2h-1zM549 831h1v1h-1zM550 830h1v1h-1zM551 828h1v2h-1zM552 827h1v1h-1zM553 825h1v2h-1zM554 823h1v2h-1zM555 822h1v1h-1zM556 820h1v2h-1zM557 819h1v1h-1zM558 817h1v2h-1zM559 815h1v2h-1zM560 814h1v1h-1zM561 812h1v2h-1zM562 810h1v2h-1zM563 809h1v1h-1zM564 807h1v2h-1zM565 806h1v1h-1zM566 804h1v2h-1zM567 802h1v2h-1zM568 801h1v1h-1zM569 799h1v2h-1zM570 797h1v2h-1zM571 796h1v1h-1zM572 794h1v2h-1zM573 793h1v1h-1zM574 791h1v2h-1zM575 789h1v2h-1zM576 788h1v1h-1zM577 786h1v2h-1zM578 785h1v1h-1zM579 784h1v1h-1zM580 782h1v2h-1zM581 781h1v1h-1zM582 780h1v1h-1zM583 778h1v2h-1zM584 777h1v1h-1zM585 775h1v2h-1zM586 774h1v1h-1zM587 773h1v1h-1zM588 771h1v2h-1zM589 770h1v1h-1zM590 769h1v1h-1zM591 767h1v2h-1zM592 766h1v1h-1zM593 765h1v1h-1zM594 764h1v1h-1zM595 763h2v1h-2zM597 762h1v1h-1zM598 761h1v1h-1zM599 760h1v1h-1zM600 759h2v1h-2zM602 758h3v1h-3zM605 757h2v1h-2zM607 756h6v1h-6zM613 755h7v1h-7zM620 756h6v1h-6zM626 757h4v1h-4zM630 758h3v1h-3zM633 759h2v1h-2zM635 760h2v1h-2zM637 761h2v1h-2zM639 762h3v1h-3zM642 763h2v1h-2zM644 764h3v1h-3zM647 765h2v1h-2zM649 766h2v1h-2zM651 767h1v1h-1zM652 768h2v1h-2zM654 769h2v1h-2zM656 770h2v1h-2zM658 771h2v1h-2zM660 772h3v1h-3zM663 773h3v1h-3zM666 774h4v1h-4zM670 775h3v1h-3zM673 776h2v1h-2zM675 777h2v1h-2zM677 778h2v1h-2zM679 779h2v1h-2zM681 780h1v1h-1zM682 781h1v1h-1zM683 782h1v1h-1zM684 783h2v1h-2zM686 784h1v1h-1zM687 785h1v1h-1zM688 786h1v1h-1zM689 787h1v1h-1zM690 788h1v1h-1zM691 789h1v1h-1zM692 790h1v1h-1zM693 791h1v1h-1zM694 792h1v1h-1zM695 793h1v1h-1zM696 794h1v1h-1zM697 795h1v1h-1zM698 796h2v1h-2zM700 797h1v1h-1zM701 798h1v1h-1zM702 799h2v1h-2zM704 800h1v1h-1z" fill="#3dbd7d"/>
<rect x="88" y="801" width="1" height="54" fill="#53b987"/>
<rect x="96" y="801" width="1" height="36" fill="#53b987"/>
<rect x="104" y="801" width="1" height="16" fill="#53b987"/>
<rect x="112" y="801" width="1" height="16" fill="#53b987"/>
<rect x="120" y="800" width="1" height="2" fill="#eb4d5c"/>
<rect x="128" y="801" width="1" height="1" fill="#eb4d5c"/>
<rect x="136" y="785" width="1" height="17" fill="#eb4d5c"/>
<rect x="144" y="777" width="1" height="25" fill="#eb4d5c"/>
<rect x="152" y="771" width="1" height="31" fill="#eb4d5c"/>
<rect x="160" y="730" width="1" height="72" fill="#eb4d5c"/>
<rect x="168" y="730" width="1" height="72" fill="#eb4d5c"/>
<rect x="176" y="729" width="1" height="73" fill="#eb4d5c"/>
<rect x="184" y="759" width="1" height="43" fill="#eb4d5c"/>
<rect x="192" y="778" width="1" height="24" fill="#eb4d5c"/>
<rect x="200" y="771" width="1" height="31" fill="#eb4d5c"/>
<rect x="208" y="800" width="1" height="2" fill="#eb4d5c"/>
<rect x="216" y="801" width="1" height="7" fill="#53b987"/>
<rect x="224" y="801" width="1" height="10" fill="#53b987"/>
<rect x="232" y="801" width="1" height="37" fill="#53b987"/>
<rect x="240" y="801" width="1" height="50" fill="#53b987"/>
<rect x="248" y="801" width="1" height="37" fill="#53b987"/>
<rect x="256" y="777" width="1" height="25" fill="#eb4d5c"/>
<rect x="264" y="760" width="1" height="42" fill="#eb4d5c"/>
<rect x="272" y="740" width="1" height="62" fill="#eb4d5c"/>
<rect x="280" y="716" width="1" height="86" fill="#eb4d5c"/>
<rect x="288" y="716" width="1" height="86" fill="#eb4d5c"/>
<rect x="296" y="721" width="1" height="81" fill="#eb4d5c"/>
<rect x="304" y="750" width="1" height="52" fill="#eb4d5c"/>
<rect x="312" y="768" width="1" height="34" fill="#eb4d5c"/>
<rect x="320" y="748" width="1" height="54" fill="#eb4d5c"/>
<rect x="328" y="748" width="1" height="54" fill="#eb4d5c"/>
<rect x="336" y="745" width="1" height="57" fill="#eb4d5c"/>
<rect x="344" y="754" width="1" height="48" fill="#eb4d5c"/>
<rect x="352" y="769" width="1" height="33" fill="#eb4d5c"/>
<rect x="360" y="787" width="1" height="15" fill="#eb4d5c"/>
<rect x="368" y="801" width="1" height="15" fill="#53b987"/>
<rect x="376" y="799" width="1" height="3" fill="#eb4d5c"/>
<rect x="384" y="782" width="1" height="20" fill="#eb4d5c"/>
<rect x="392" y="801" width="1" height="16" fill="#53b987"/>
<rect x="400" y="801" width="1" height="55" fill="#53b987"/>
<rect x="408" y="801" width="1" height="68" fill="#53b987"/>
<rect x="416" y="801" width="1" height="77" fill="#53b987"/>
<rect x="424" y="801" width="1" height="91" fill="#53b987"/>
<rect x="432" y="801" width="1" height="105" fill="#53b987"/>
<rect x="440" y="801" width="1" height="102" fill="#53b987"/>
<rect x="448" y="801" width="1" height="113" fill="#53b987"/>
<rect x="456" y="801" width="1" height="105" fill="#53b987"/>
<rect x="464" y="801" width="1" height="85" fill="#53b987"/>
<rect x="472" y="801" width="1" height="59" fill="#53b987"/>
<rect x="480" y="801" width="1" height="35" fill="#53b987"/>
<rect x="488" y="801" width="1" height="19" fill="#53b987"/>
<rect x="496" y="801" width="1" height="13" fill="#53b987"/>
<rect x="504" y="770" width="1" height="32" fill="#eb4d5c"/>
<rect x="512" y="772" width="1" height="30" fill="#eb4d5c"/>
<rect x="520" y="761" width="1" height="41" fill="#eb4d5c"/>
<rect x="528" y="762" width="1" height="40" fill="#eb4d5c"/>
<rect x="536" y="765" width="1" height="37" fill="#eb4d5c"/>
<rect x="544" y="743" width="1" height="59" fill="#eb4d5c"/>
<rect x="552" y="720" width="1" height="82" fill="#eb4d5c"/>
<rect x="560" y="687" width="1" height="115" fill="#eb4d5c"/>
<rect x="568" y="695" width="1" height="107" fill="#eb4d5c"/>
<rect x="576" y="697" width="1" height="105" fill="#eb4d5c"/>
<rect x="584" y="707" width="1" height="95" fill="#eb4d5c"/>
<rect x="592" y="728" width="1" height="74" fill="#eb4d5c"/>
<rect x="600" y="744" width="1" height="58" fill="#eb4d5c"/>
<rect x="608" y="773" width="1" height="29" fill="#eb4d5c"/>
<rect x="616" y="795" width="1" height="7" fill="#eb4d5c"/>
<rect x="624" y="801" width="1" height="6" fill="#53b987"/>
<rect x="632" y="801" width="1" height="17" fill="#53b987"/>
<rect x="640" y="801" width="1" height="33" fill="#53b987"/>
<rect x="648" y="801" width="1" height="35" fill="#53b987"/>
<rect x="656" y="801" width="1" height="27" fill="#53b987"/>
<rect x="664" y="801" width="1" height="29" fill="#53b987"/>
<rect x="672" y="801" width="1" height="22" fill="#53b987"/>
<rect x="680" y="801" width="1" height="33" fill="#53b987"/>
<rect x="688" y="801" width="1" height="55" fill="#53b987"/>
<rect x="696" y="801" width="1" height="57" fill="#53b987"/>
<rect x="704" y="801" width="1" height="53" fill="#53b987"/>
<!-- scrollbar -->
<rect x="735" y="959" width="118" height="7" fill="#b4b4b8"/>
<polygon points="813.200,964.400 823.300,959 826.700,959 836.600,964.400" fill="#6a6a6d" shape-rendering="geometricPrecision"/>
<!-- indicator icon -->
<g shape-rendering="geometricPrecision">
<circle cx="22.0" cy="671.0" r="3.5" fill="#fff" stroke="#000" stroke-width="1"/>
<circle cx="22.0" cy="671.0" r="1.9" fill="#f00"/>
<g stroke="#f00" stroke-width="1.1">
<line x1="25.73" y1="674.73" x2="27.29" y2="676.29"/><line x1="17.67" y1="674.73" x2="16.11" y2="676.29"/><line x1="17.67" y1="666.67" x2="16.11" y2="665.11"/><line x1="25.73" y1="666.67" x2="27.29" y2="665.11"/>
</g>
<g fill="#f00" shape-rendering="crispEdges"><rect x="21" y="664" width="1" height="2"/><rect x="21" y="676" width="1" height="2"/><rect x="15" y="670" width="2" height="1"/><rect x="27" y="670" width="2" height="1"/></g>
<circle cx="186" cy="30.500" r="4" fill="none" stroke="#ff7a1a" stroke-width="0.9"/>
<line x1="182" y1="30.500" x2="190" y2="30.500" stroke="#ff7a1a" stroke-width="0.9"/>
<line x1="186" y1="26.500" x2="186" y2="34.500" stroke="#ff7a1a" stroke-width="0.9"/>
</g>
</svg>

<div class="tbar"></div>
<div class="tb" style="left:-10px;width:72px"></div>
<div class="tb" style="left:64px;width:69px"></div>
<div class="tb" style="left:135px;width:65px"></div>
<div class="tb" style="left:202px;width:45px"></div>
<div class="tb" style="left:249px;width:45px"></div>
<div class="tb" style="left:296px;width:45px"></div>
<div class="tb" style="left:343px;width:45px"></div>
<div class="tb" style="left:390px;width:26px"></div>
<div class="tb" style="left:418px;width:26px"></div>
<div class="tb" style="left:446px;width:26px"></div>
<div class="tb" style="left:474px;width:26px"></div>
<div class="tb" style="left:502px;width:26px"></div>
<div class="tb" style="left:530px;width:26px"></div>
<div class="tb" style="left:558px;width:26px"></div>
<div class="tb" style="left:586px;width:26px"></div>
<div class="tb" style="left:614px;width:26px"></div>
<div class="tb" style="left:642px;width:69px"></div>
<div class="tb" style="left:713px;width:26px"></div>
<div class="tb" style="left:741px;width:45px"></div>
<div class="tb" style="left:788px;width:45px"></div>
<div class="tb" style="left:835px;width:63px"></div>
<span class="tt" style="left:23.5px;font-size:12.800px">返回</span>
<span class="tt" style="left:94.6px;font-size:12.800px">首页</span>
<span class="tt" style="left:306px;font-size:15.500px;letter-spacing:0.7px;top:-3.500px;color:#414854">tick</span>
<span class="tt" style="left:356.5px;">5日</span>
<span class="tt" style="left:390px;width:27.80000000000001px;text-align:center;top:-3.600px">5</span>
<span class="tt" style="left:418px;width:27.80000000000001px;text-align:center;top:-3.600px">10</span>
<span class="tt" style="left:446px;width:27.80000000000001px;text-align:center;top:-3.600px">30</span>
<span class="tt" style="left:474px;width:27.80000000000001px;text-align:center;top:-3.600px">60</span>
<span class="tt" style="left:502px;width:27.799999999999955px;text-align:center;top:-3.600px">4H</span>
<span class="tt" style="left:530px;width:27.799999999999955px;text-align:center;top:-3.600px">日</span>
<span class="tt" style="left:558px;width:27.799999999999955px;text-align:center;top:-3.600px">周</span>
<span class="tt" style="left:586px;width:27.799999999999955px;text-align:center;top:-3.600px">月</span>
<span class="tt" style="left:614px;width:27.799999999999955px;text-align:center;top:-3.600px">年</span>
<span class="tt" style="left:673.2px;font-size:12.800px">更多</span>
<span class="tt" style="left:718.600px;top:-4.400px;font-weight:bold;-webkit-text-stroke:0.3px #3a414e;font-size:16px;color:#3a414e">ƒ</span>
<span class="tt" style="left:727.200px;top:-0.800px;font-weight:normal;-webkit-text-stroke:0.5px #3a414e;font-size:12.500px;color:#3a414e;transform:scaleX(1.15);transform-origin:0 0">x</span>
<span class="tt" style="left:851.500px;top:-2.700px;color:#3a414e">_</span>
<svg width="853" height="19" viewBox="0 0 853 19" style="left:0;top:0" shape-rendering="geometricPrecision">
<path d="M13.300 -1.300 L7.200 4.600 L13.300 10.200 L13.300 6.600 C17 6.600 19.500 8 20.800 11.500 C21.800 6.500 19.300 2.700 13.300 2.500 Z" fill="#3a414e"/>
<path d="M84.600 -2 L77.800 4.800 L79.700 4.800 L79.700 11.700 L83.200 11.700 L83.200 7.200 L86 7.200 L86 11.700 L89.500 11.700 L89.500 4.800 L91.400 4.800 Z" fill="#3a414e"/>
<path d="M171.500 0.500 A6.200 6.200 0 1 0 174 7.800" fill="none" stroke="#3a414e" stroke-width="1.500"/>
<path d="M172.500 4.600 L178.200 5.200 L175.700 9 Z" fill="#3a414e"/>
<path d="M171 0.200 Q174.500 2 175.300 5.500" fill="none" stroke="#3a414e" stroke-width="1.500"/>
<path d="M216.500 6.300 L222.500 0.600 L226.500 4.500 L232.500 -1" fill="none" stroke="#3a414e" stroke-width="1.300"/>
<path d="M216.100 12.700 L216.100 10 L218.900 7.600 L218.900 12.700 Z M221 12.700 L221 4.800 L223.800 4.800 L223.800 12.700 Z M226.100 12.700 L226.100 8 L228.900 5.800 L228.900 12.700 Z M231.100 12.700 L231.100 3.300 L233.900 1.200 L233.900 12.700 Z" fill="#3a414e"/>
<rect x="263.3" y="2.6" width="1.200" height="6.2" fill="#3a414e"/>
<rect x="262.1" y="2.6" width="3.600" height="6.2" rx="1" fill="#3a414e"/>
<rect x="268.8" y="-1" width="1.200" height="13.7" fill="#3a414e"/>
<rect x="267.6" y="0.6" width="3.600" height="7.6" rx="1" fill="#3a414e"/>
<rect x="274.1" y="1.8" width="1.200" height="9.9" fill="#3a414e"/>
<rect x="272.9" y="4.7" width="3.600" height="4.4" rx="1" fill="#3a414e"/>
<rect x="279.7" y="-1" width="1.200" height="12.7" fill="#3a414e"/>
<rect x="278.5" y="4.1" width="3.600" height="4.7" rx="1" fill="#3a414e"/>
<rect x="656.100" y="-0.9" width="13.800" height="2.900" rx="1.400" fill="#3a414e"/>
<rect x="656.100" y="4.1" width="13.800" height="2.900" rx="1.400" fill="#3a414e"/>
<rect x="656.100" y="9.1" width="13.800" height="2.900" rx="1.400" fill="#3a414e"/>
<circle cx="764.3" cy="4.500" r="6.500" fill="none" stroke="#4a505c" stroke-width="1.200"/>
<path d="M761.2 4.500 L767.4 4.500" stroke="#4a505c" stroke-width="1.200"/>
<path d="M768.9 9.300 L771.8 12.400" stroke="#4a505c" stroke-width="1.400"/>
<circle cx="811.1" cy="4.500" r="6.500" fill="none" stroke="#4a505c" stroke-width="1.200"/>
<path d="M808 4.500 L814.2 4.500" stroke="#4a505c" stroke-width="1.200"/>
<path d="M811.1 1.400 L811.1 7.600" stroke="#4a505c" stroke-width="1.200"/>
<path d="M815.7 9.300 L818.6 12.400" stroke="#4a505c" stroke-width="1.400"/>
</svg>

<div class="side" style="height:51px"><span style="top:6.200px">分</span><span style="top:19.950px">时</span><span style="top:34.200px">图</span></div>
<div class="side" style="top:70px;height:46px;width:12px;border-right:1px solid #e3ecf6;background:#ff6a00;color:#fff"><span style="top:4.200px;font-size:12px;left:-4.600px;font-weight:bold">K</span><span style="top:18.850px">线</span><span style="top:31.800px">图</span></div>
<div class="side" style="top:116px;height:52px;border-bottom:1px solid #cdd2dc"><span style="top:7.100px">闪</span><span style="top:22.200px">电</span><span style="top:35.450px">图</span></div>
<div class="side" style="top:169px;height:63px;border-bottom:1px solid #dfe6ee"><span style="top:6.900px">合</span><span style="top:20.300px">约</span><span style="top:34.700px">资</span><span style="top:48.800px">料</span></div>

<div style="left:85px;top:21.300px;font-size:12px;line-height:16px;color:#000;white-space:nowrap;font-weight:500" class="cj">欧元英镑<span style="position:static;color:#ff7a1a;font-weight:400"><span style="position:relative;left:-2.500px;font-weight:700">【</span><span style="position:relative;left:-0.800px">日线</span><span style="position:relative;left:0.700px;font-weight:700">】</span></span></div>

<div class="yl" style="top:33px">0.8896</div>
<div class="yl" style="top:89px">0.8867</div>
<div class="yl" style="top:146px">0.8838</div>
<div class="yl" style="top:202px">0.8808</div>
<div class="yl" style="top:259px">0.8779</div>
<div class="yl" style="top:316px">0.8750</div>
<div class="yl" style="top:372px">0.8720</div>
<div class="yl" style="top:429px">0.8691</div>
<div class="yl" style="top:486px">0.8662</div>
<div class="yl" style="top:542px">0.8633</div>
<div class="yl" style="top:599px">0.8603</div>
<div class="yl" style="top:678px">0.0018</div>
<div class="yl" style="top:701px">0.0015</div>
<div class="yl" style="top:725px">0.0011</div>
<div class="yl" style="top:748px">0.0007</div>
<div class="yl" style="top:772px">0.0003</div>
<div class="yl" style="top:795px">-0.0000</div>
<div class="yl" style="top:819px">-0.0004</div>
<div class="yl" style="top:842px">-0.0008</div>
<div class="yl" style="top:866px">-0.0011</div>
<div class="yl" style="top:889px">-0.0015</div>

<div style="left:389px;top:236px;font-size:12px;line-height:14px;font-weight:bold;color:#ee4f5e;letter-spacing:0.2px">0.8788</div>
<div style="left:501px;top:595px;font-size:12px;line-height:14px;font-weight:bold;color:#53b987;letter-spacing:0.3px">0.8610</div>

<div style="left:85.500px;top:665.700px;font-size:12px;line-height:16px;white-space:nowrap;color:#000;letter-spacing:0.15px">MACD(13,8,9)</div>
<div style="left:168.500px;top:665.700px;font-size:12px;line-height:16px;white-space:nowrap;color:#4894f0">DIFF:-0.0004</div>
<div style="left:247.500px;top:665.700px;font-size:12px;line-height:16px;white-space:nowrap;color:#52c484">DEA:0.0000</div>
<div style="left:321px;top:665.700px;font-size:12px;line-height:16px;white-space:nowrap;color:#52ade6;letter-spacing:0.22px">MACD:-0.0008</div>

<div style="left:234.2px;top:921px;font-size:12px;line-height:16px;font-weight:bold;color:#222;letter-spacing:0.2px">2026/02</div>
<div style="left:394.2px;top:921px;font-size:12px;line-height:16px;font-weight:bold;color:#222;letter-spacing:0.2px">2026/03</div>
<div style="left:570.2px;top:921px;font-size:12px;line-height:16px;font-weight:bold;color:#222;letter-spacing:0.2px">2026/04</div>

<div style="left:26.700px;top:922.500px;font-size:13px;line-height:18px;font-weight:bold;color:#ff7a1a;white-space:nowrap" class="cj">日线</div>
<svg width="9" height="9" viewBox="0 0 9 9" style="left:57.500px;top:927px"><polygon points="4.200,0 8.400,8 0,8" fill="#ff7a1a"/></svg>

<div class="tab act" style="left:13px;width:39px;top:940px;height:15px;line-height:15px"><span class="tcj">指标</span></div>
<div class="tab  na" style="left:53px;width:39px;line-height:17.800px"><span class="tcj">模板</span></div>
<div class="tab vip na" style="left:93px;width:57px;line-height:17.800px">VIP<span class="tcj">指标</span></div>
<div class="tab  na" style="left:151px;width:27px;line-height:17.800px">MA</div>
<div class="tab  na" style="left:179px;width:39px;line-height:17.800px">MACD</div>
<div class="tab  na" style="left:219px;width:39px;line-height:17.800px">BOLL</div>
<div class="tab  na" style="left:259px;width:33px;line-height:17.800px">VOL</div>
<div class="tab  na" style="left:293px;width:39px;line-height:17.800px">BIAS</div>
<div class="tab  na" style="left:333px;width:33px;line-height:17.800px">CCI</div>
<div class="tab  na" style="left:367px;width:33px;line-height:17.800px">KDJ</div>
<div class="tab  na" style="left:401px;width:39px;line-height:17.800px">LW&amp;&nbsp;</div>
<div class="tab  na" style="left:441px;width:33px;line-height:17.800px">RSI</div>
<div class="tab  na" style="left:475px;width:27px;line-height:17.800px">CR</div>
<div class="tab  na" style="left:503px;width:33px;line-height:17.800px">PSY</div>
<div class="tab  na" style="left:537px;width:39px;line-height:17.800px"><span class="tcj">设置</span></div>

<div style="left:5px;top:969.500px;font-size:12px;line-height:14px;color:#1e2a3c;white-space:nowrap" class="cj">资讯</div>
</div>
</body>
</html>
